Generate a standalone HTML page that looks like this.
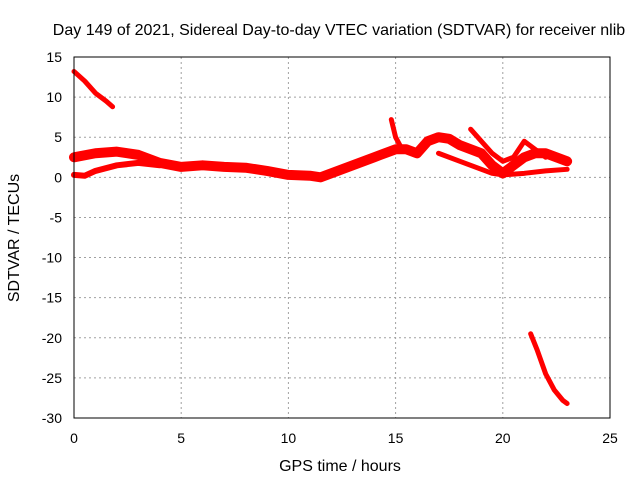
<!DOCTYPE html>
<html><head><meta charset="utf-8"><style>
body{margin:0;background:#fff;}
svg text{font-family:"Liberation Sans",sans-serif;font-size:14px;fill:#000;}
svg text.big{font-size:16px;}
</style></head><body>
<svg id="chart" width="640" height="480" xmlns="http://www.w3.org/2000/svg">
<text class="big" x="339" y="35" text-anchor="middle">Day 149 of 2021, Sidereal Day-to-day VTEC variation (SDTVAR) for receiver nlib</text>
<text class="big" x="340" y="471" text-anchor="middle">GPS time / hours</text>
<text class="big" transform="translate(19,238) rotate(-90)" text-anchor="middle">SDTVAR / TECUs</text>
<g id="grid"></g>
<g id="marks"></g>
<rect x="74" y="57" width="536" height="361" fill="none" stroke="#000" stroke-width="1"/>
<g id="ticks"></g>
</svg>
<script>
const xTicks=[0,5,10,15,20,25];
const yTicks=[15,10,5,0,-5,-10,-15,-20,-25,-30];
const trackTopLeftX=[0,0.5,1,1.5,1.8];
const trackTopLeftY=[13.2,12,10.5,9.5,8.8];
const trackBottomRightX=[21.3,21.6,22,22.4,22.8,23];
const trackBottomRightY=[-19.5,-21.5,-24.5,-26.5,-27.8,-28.2];
const mainX=[0,1,2,3,4,5,6,7,8,9,10,11,11.5,12,13,14,15,15.5,16,16.5,17,17.5,18,19,19.5,20,20.5,21,21.5,22,22.5,23];
const mainY=[2.5,3,3.2,2.8,1.8,1.3,1.5,1.3,1.2,0.8,0.3,0.2,0,0.5,1.5,2.5,3.5,3.5,3,4.5,5,4.8,4,3,1.5,0.5,1.5,2.5,3,3,2.5,2];
const lowStartX=[0,0.5,1,2,3,4];
const lowStartY=[0.3,0.2,0.8,1.5,1.8,1.5];
const lowEndX=[17,18,19,19.5,20,21,22,23];
const lowEndY=[3,2,1,0.5,0.3,0.5,0.8,1];
const upEndX=[18.5,19,19.5,20,20.5,21,21.5,22];
const upEndY=[6,4.5,3,2,2.5,4.5,3.5,2.5];
const spikeX=[14.8,15,15.3];
const spikeY=[7.2,5,3.5];
const NS="http://www.w3.org/2000/svg";
const sx=v=>74+v*536/25;
const sy=v=>57+(15-v)*361/45;
const grid=document.getElementById('grid'),ticks=document.getElementById('ticks'),marks=document.getElementById('marks');
function mk(t,a,p){const e=document.createElementNS(NS,t);for(const k in a)e.setAttribute(k,a[k]);p.appendChild(e);return e;}
xTicks.forEach(v=>{
 if(v>0&&v<25){const g=mk('line',{x1:sx(v),x2:sx(v),y1:57,y2:418,stroke:'#a0a0a0','stroke-dasharray':'2,3'},grid);
 
 }
 const t=mk('text',{x:sx(v),y:443,'text-anchor':'middle'},ticks);t.textContent=v;
 
 
});
yTicks.forEach(v=>{
 if(v<15&&v>-30){const g=mk('line',{x1:74,x2:610,y1:sy(v),y2:sy(v),stroke:'#a0a0a0','stroke-dasharray':'2,3'},grid);
 
 }
 const t=mk('text',{x:62,y:sy(v)+5,'text-anchor':'end'},ticks);t.textContent=v;
 
 
});
function track(xs,ys,w,name){
 const pts=xs.map((x,i)=>sx(x)+','+sy(ys[i])).join(' ');
 const p=mk('polyline',{points:pts,fill:'none',stroke:'#f00','stroke-width':w,'stroke-linejoin':'round','stroke-linecap':'round'},marks);
 
 
}
track(trackTopLeftX,trackTopLeftY,5,'track-top-left');
track(trackBottomRightX,trackBottomRightY,5,'track-bottom-right');
track(mainX,mainY,10,'track-main');
track(lowStartX,lowStartY,6,'track-low-start');
track(lowEndX,lowEndY,5,'track-low-end');
track(upEndX,upEndY,5,'track-upper-end');
track(spikeX,spikeY,5,'track-spike');
</script>
</body></html>
